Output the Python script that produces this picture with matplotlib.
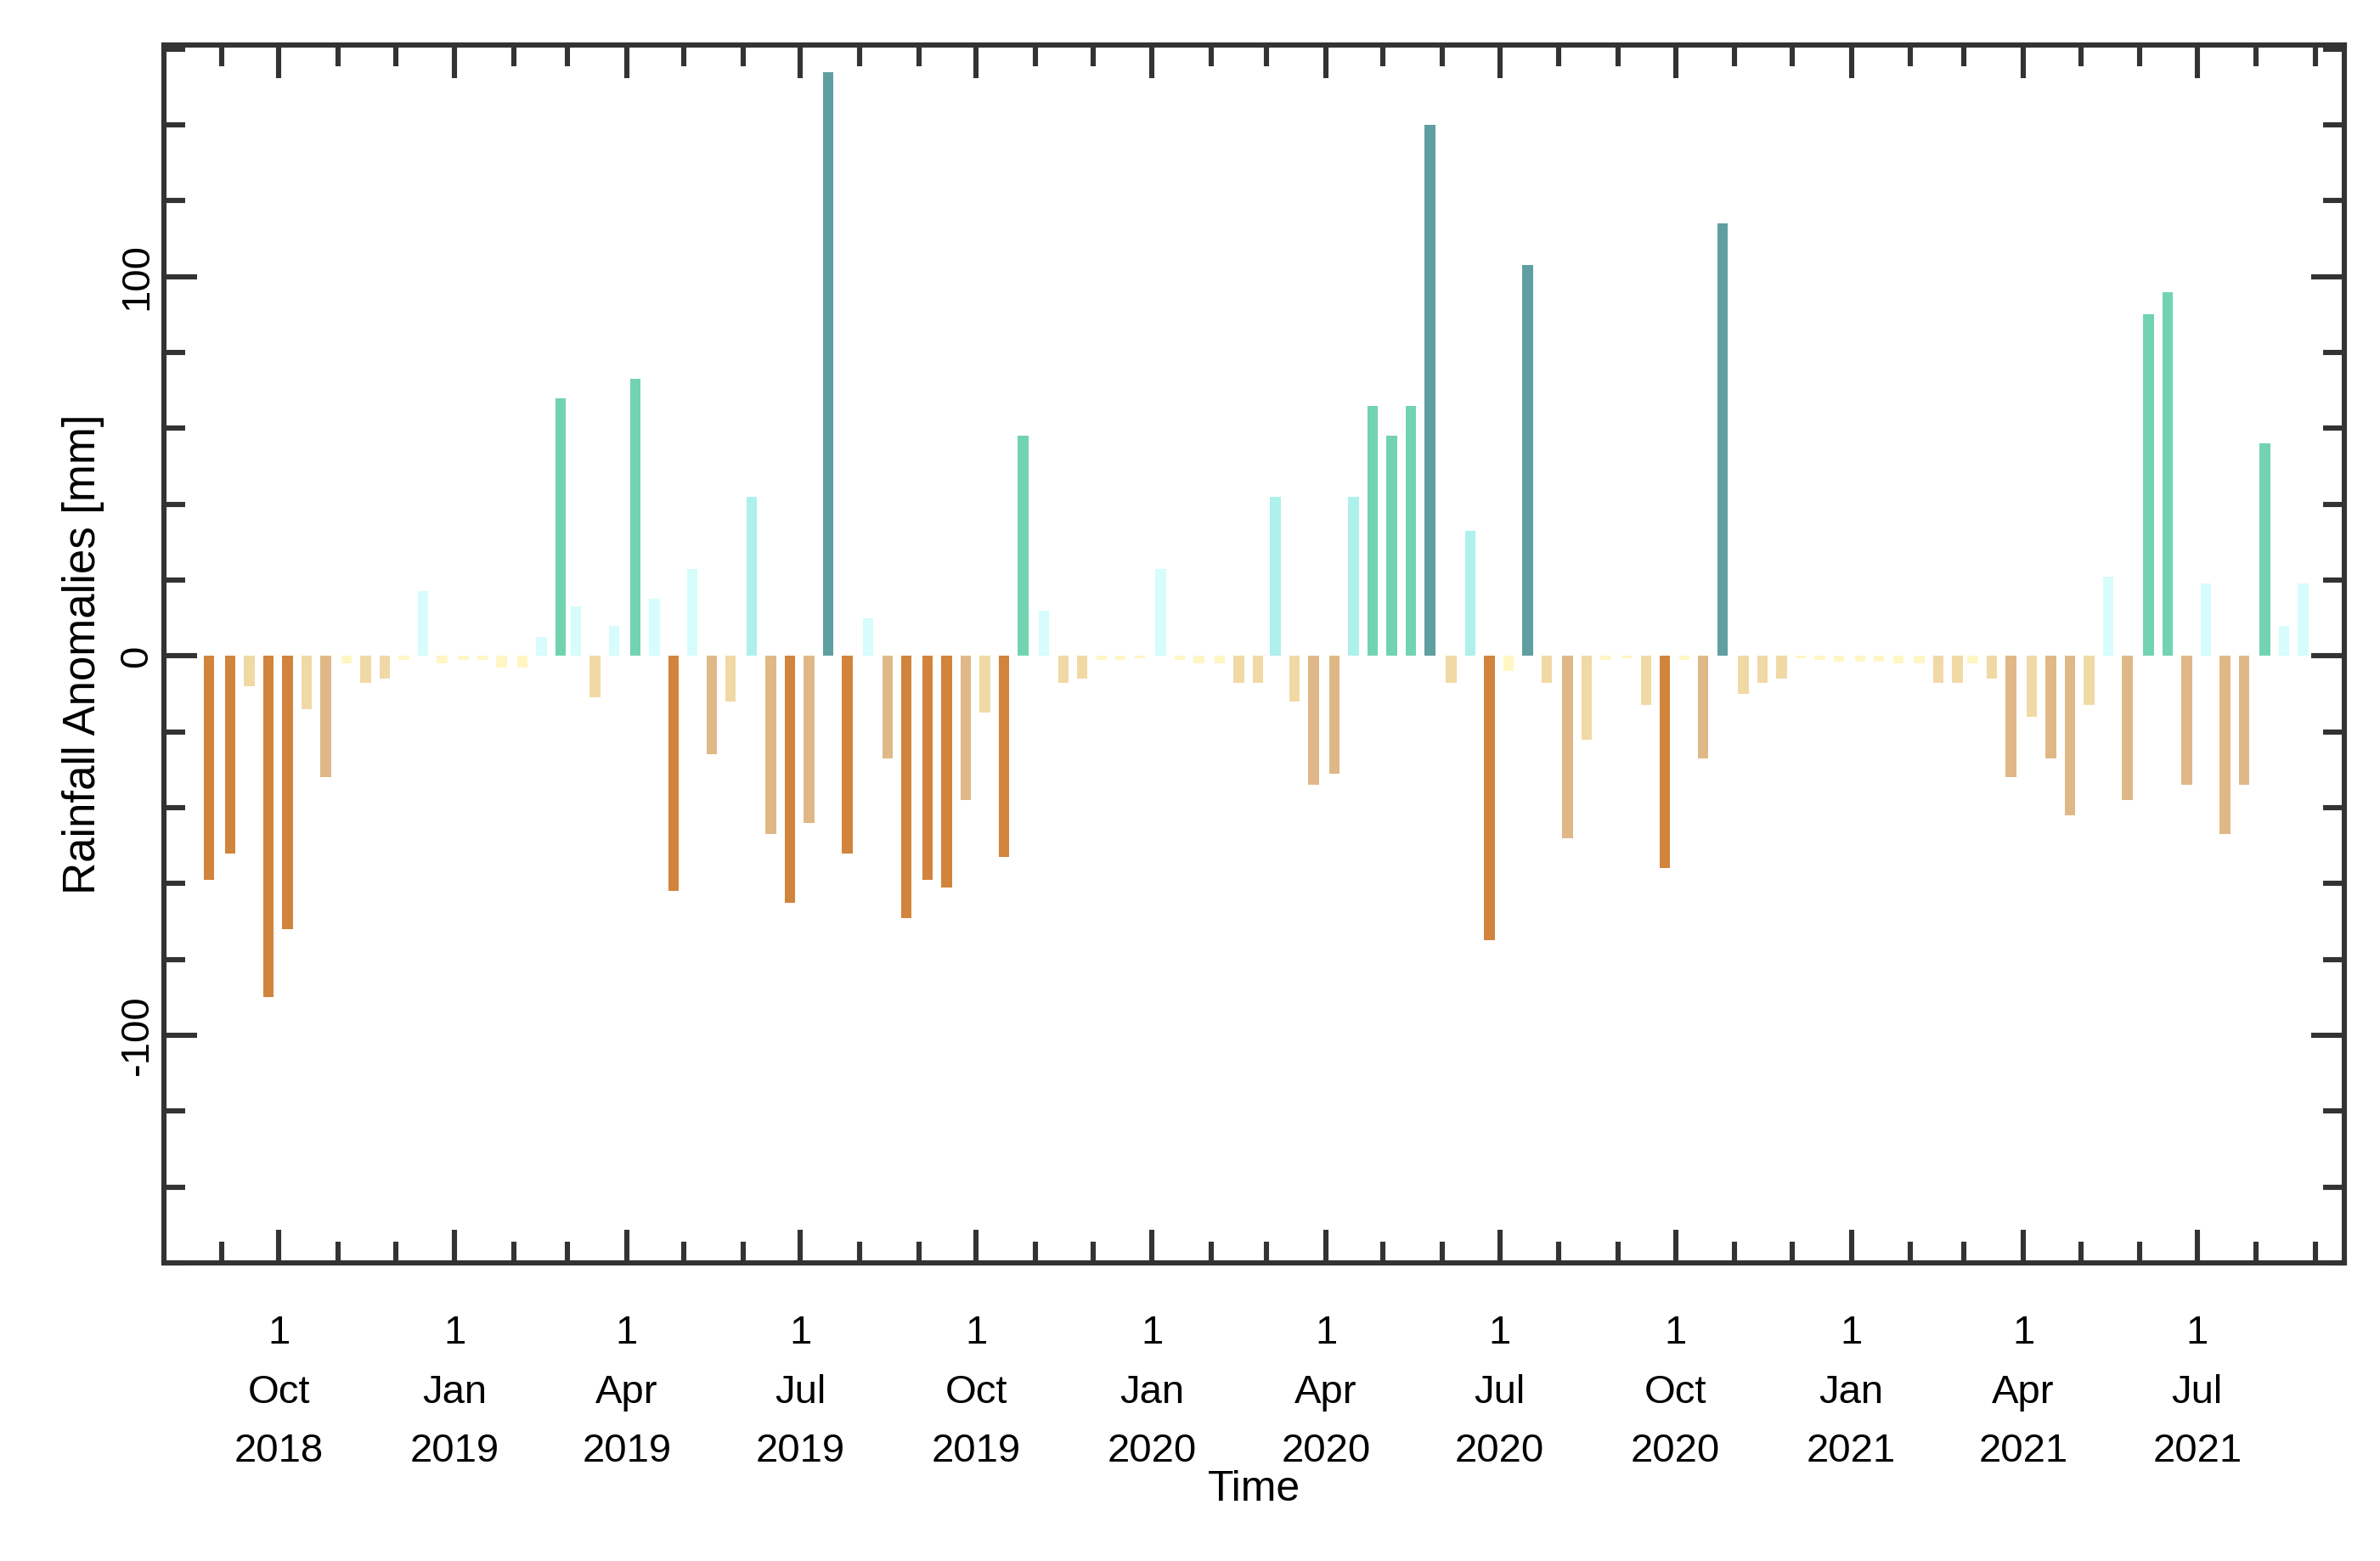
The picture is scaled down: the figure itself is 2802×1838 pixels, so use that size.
import matplotlib
matplotlib.use("Agg")
import matplotlib.pyplot as plt
import matplotlib.dates as mdates
from matplotlib.ticker import MultipleLocator, FixedLocator
import datetime as dt

plt.rcParams["font.family"] = ["Liberation Sans", "DejaVu Sans"]
plt.rcParams["axes.unicode_minus"] = False

# dekadal rainfall anomalies starting at 3rd dekad of Aug 2018
start_year, start_month, start_dekad = 2018, 8, 3
anomalies = [-59, -52, -8, -90, -72, -14, -32, -2, -7, -6, -1, 17, -2, -1, -1, -3, -3, 5,
             68, 13, -11, 8, 73, 15, -62, 23, -26, -12, 42, -47, -65, -44, 154, -52, 10, -27,
             -69, -59, -61, -38, -15, -53, 58, 12, -7, -6, -1, -1, -0.5, 23, -1, -2, -2, -7,
             -7, 42, -12, -34, -31, 42, 66, 58, 66, 140, -7, 33, -75, -4, 103, -7, -48, -22,
             -1, -0.5, -13, -56, -1, -27, 114, -10, -7, -6, -0.5, -1, -1.5, -1.5, -1.5, -2,
             -2, -7, -7, -2, -6, -32, -16, -27, -42, -13, 21, -38, 90, 96, -34, 19, -47, -34,
             56, 8, 19]

dates = []
y, m, d = start_year, start_month, start_dekad
for _ in anomalies:
    dates.append(dt.datetime(y, m, 1) + dt.timedelta(days=4.5 + 10 * (d - 1)))
    d += 1
    if d > 3:
        d = 1
        m += 1
        if m > 12:
            m = 1
            y += 1

def colour(v):
    if v < -50: return "#d2843c"
    if v < -25: return "#e0b887"
    if v < -5: return "#f1d9a6"
    if v < 0: return "#fff6c4"
    if v < 25: return "#d6fcfb"
    if v < 50: return "#aef0ec"
    if v < 100: return "#72d3b1"
    return "#5f9fa1"

fig = plt.figure(figsize=(14.01, 9.19), dpi=200)
ax = fig.add_axes([0.069, 0.191, 0.916, 0.780])
ax.bar(dates, anomalies, width=5.5, color=[colour(v) for v in anomalies])

ax.set_xlim(dt.datetime(2018, 8, 2), dt.datetime(2021, 9, 16))
ax.set_ylim(-160, 161)

ax.xaxis.set_major_locator(mdates.MonthLocator(bymonth=[1, 4, 7, 10]))
ax.xaxis.set_minor_locator(mdates.MonthLocator())
ax.xaxis.set_major_formatter(mdates.DateFormatter("1\n%b\n%Y"))
ax.yaxis.set_major_locator(FixedLocator([-100, 0, 100]))
ax.yaxis.set_minor_locator(MultipleLocator(20))

ax.tick_params(which="both", direction="in", top=True, right=True, width=2.2, color="#333333")
ax.tick_params(which="major", length=14, labelsize=17)
ax.tick_params(which="minor", length=9)
ax.tick_params(axis="x", which="major", pad=22)
for lab in ax.get_yticklabels():
    lab.set_rotation(90)
    lab.set_va("center")
for lab in ax.get_xticklabels():
    lab.set_linespacing(1.75)
for s in ax.spines.values():
    s.set_linewidth(2.2)
    s.set_color("#333333")

ax.set_xlabel("Time", fontsize=18, labelpad=0)
ax.set_ylabel("Rainfall Anomalies [mm]", fontsize=19, labelpad=6)

fig.savefig("out.png", dpi=200, facecolor="white")
